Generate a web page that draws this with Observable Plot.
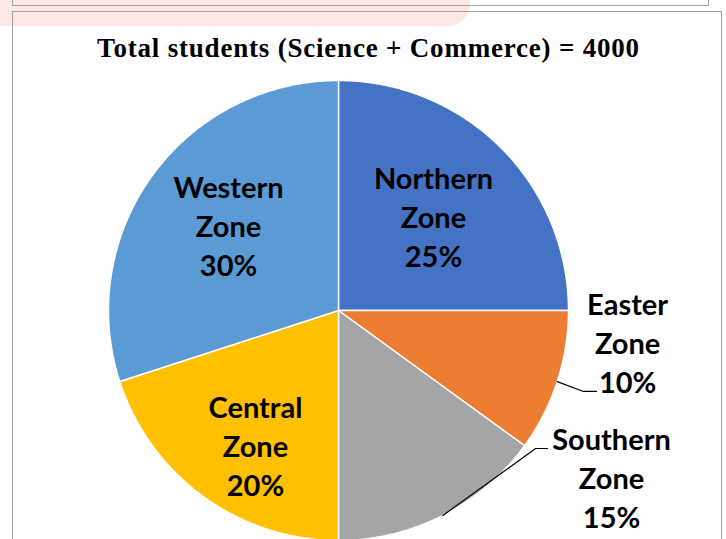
<!DOCTYPE html>
<html><head><meta charset="utf-8">
<script src="https://cdn.jsdelivr.net/npm/d3@7"></script>
<script src="https://cdn.jsdelivr.net/npm/@observablehq/plot@0.6"></script>
<style>
html,body{margin:0;padding:0;background:#fff;}
#wrap{position:relative;width:726px;height:539px;overflow:hidden;background:#fff;}
#pink{position:absolute;left:0;top:0;width:470px;height:26px;background:#fde7e7;border-bottom-right-radius:22px;}
#chart{position:absolute;left:0;top:0;}
#box1{position:absolute;left:12px;top:-10px;width:695px;height:14px;border:1.5px solid #a3a3a3;box-sizing:content-box;}
#box2{position:absolute;left:12px;top:11px;width:708px;height:560px;border:1.5px solid #a3a3a3;}
</style></head>
<body><div id="wrap"><div id="pink"></div><div id="chart"></div><div id="box1"></div><div id="box2"></div></div>
<script>
const TITLE = "Total students (Science + Commerce) = 4000";
const zones = ["Northern", "Easter", "Southern", "Central", "Western"];
const shares = [25, 10, 15, 20, 30];
const colors = ["#4472C4", "#ED7D31", "#A5A5A5", "#FFC000", "#5B9BD5"];

// layout (label centres in pie-radius units)
const labelX = [0.413, 1.257, 1.187, -0.361, -0.478];
const labelY = [0.413, -0.135, -0.722, -0.584, 0.376];
// leader lines for outside labels: elbow and end points
const leaders = {
  "Easter":   [[1.065, -0.352], [1.122, -0.352]],
  "Southern": [[0.857, -0.600], [0.909, -0.600]]
};

const slicePts = [];
const mids = [];
let cum = 0;
zones.forEach((z, i) => {
  const a0 = cum / 100 * 2 * Math.PI;
  const a1 = (cum + shares[i]) / 100 * 2 * Math.PI;
  cum += shares[i];
  mids.push((a0 + a1) / 2);
  slicePts.push({zone: z, x: 0, y: 0});
  const n = Math.max(2, Math.ceil((a1 - a0) / (Math.PI / 360)));
  for (let k = 0; k <= n; k++) {
    const a = a0 + (a1 - a0) * k / n;
    slicePts.push({zone: z, x: Math.sin(a), y: Math.cos(a)});
  }
  slicePts.push({zone: z, x: 0, y: 0});
});

const labels = zones.map((z, i) => ({
  text: `${z}\nZone\n${shares[i]}%`, x: labelX[i], y: labelY[i]
}));

const leaderPts = [];
zones.forEach((z, i) => {
  if (!leaders[z]) return;
  leaderPts.push({zone: z, x: Math.sin(mids[i]), y: Math.cos(mids[i])});
  leaders[z].forEach(([x, y]) => leaderPts.push({zone: z, x, y}));
});

const plot = Plot.plot({
  width: 726, height: 539,
  margin: 0,
  style: {background: "transparent"},
  x: {domain: [-1, 1], range: [108, 568], axis: null},
  y: {domain: [-1, 1], range: [540, 80], axis: null},
  color: {domain: zones, range: colors},
  marks: [
    Plot.line(slicePts, {x: "x", y: "y", z: "zone", fill: "zone", stroke: "white", strokeWidth: 1.5, strokeLinejoin: "round", curve: "linear"}),
    Plot.line(leaderPts, {x: "x", y: "y", z: "zone", stroke: "black", strokeWidth: 1.2}),
    Plot.text(labels, {x: "x", y: "y", text: "text", fontFamily: "Lato", fontWeight: "bold", fontSize: 29, lineHeight: 1.345, fill: "black", textAnchor: "middle", lineAnchor: "middle"}),
    Plot.text([TITLE], {frameAnchor: "top", dx: 5, dy: 48, fontFamily: "Liberation Serif", fontWeight: "bold", fontSize: 27, fill: "black", lineAnchor: "middle"})
  ]
});
document.getElementById("chart").appendChild(plot);
d3.select(plot).selectAll("text").filter(function() { return this.textContent.startsWith("Total"); })
  .style("letter-spacing", "0.8px");
</script>
</body></html>
